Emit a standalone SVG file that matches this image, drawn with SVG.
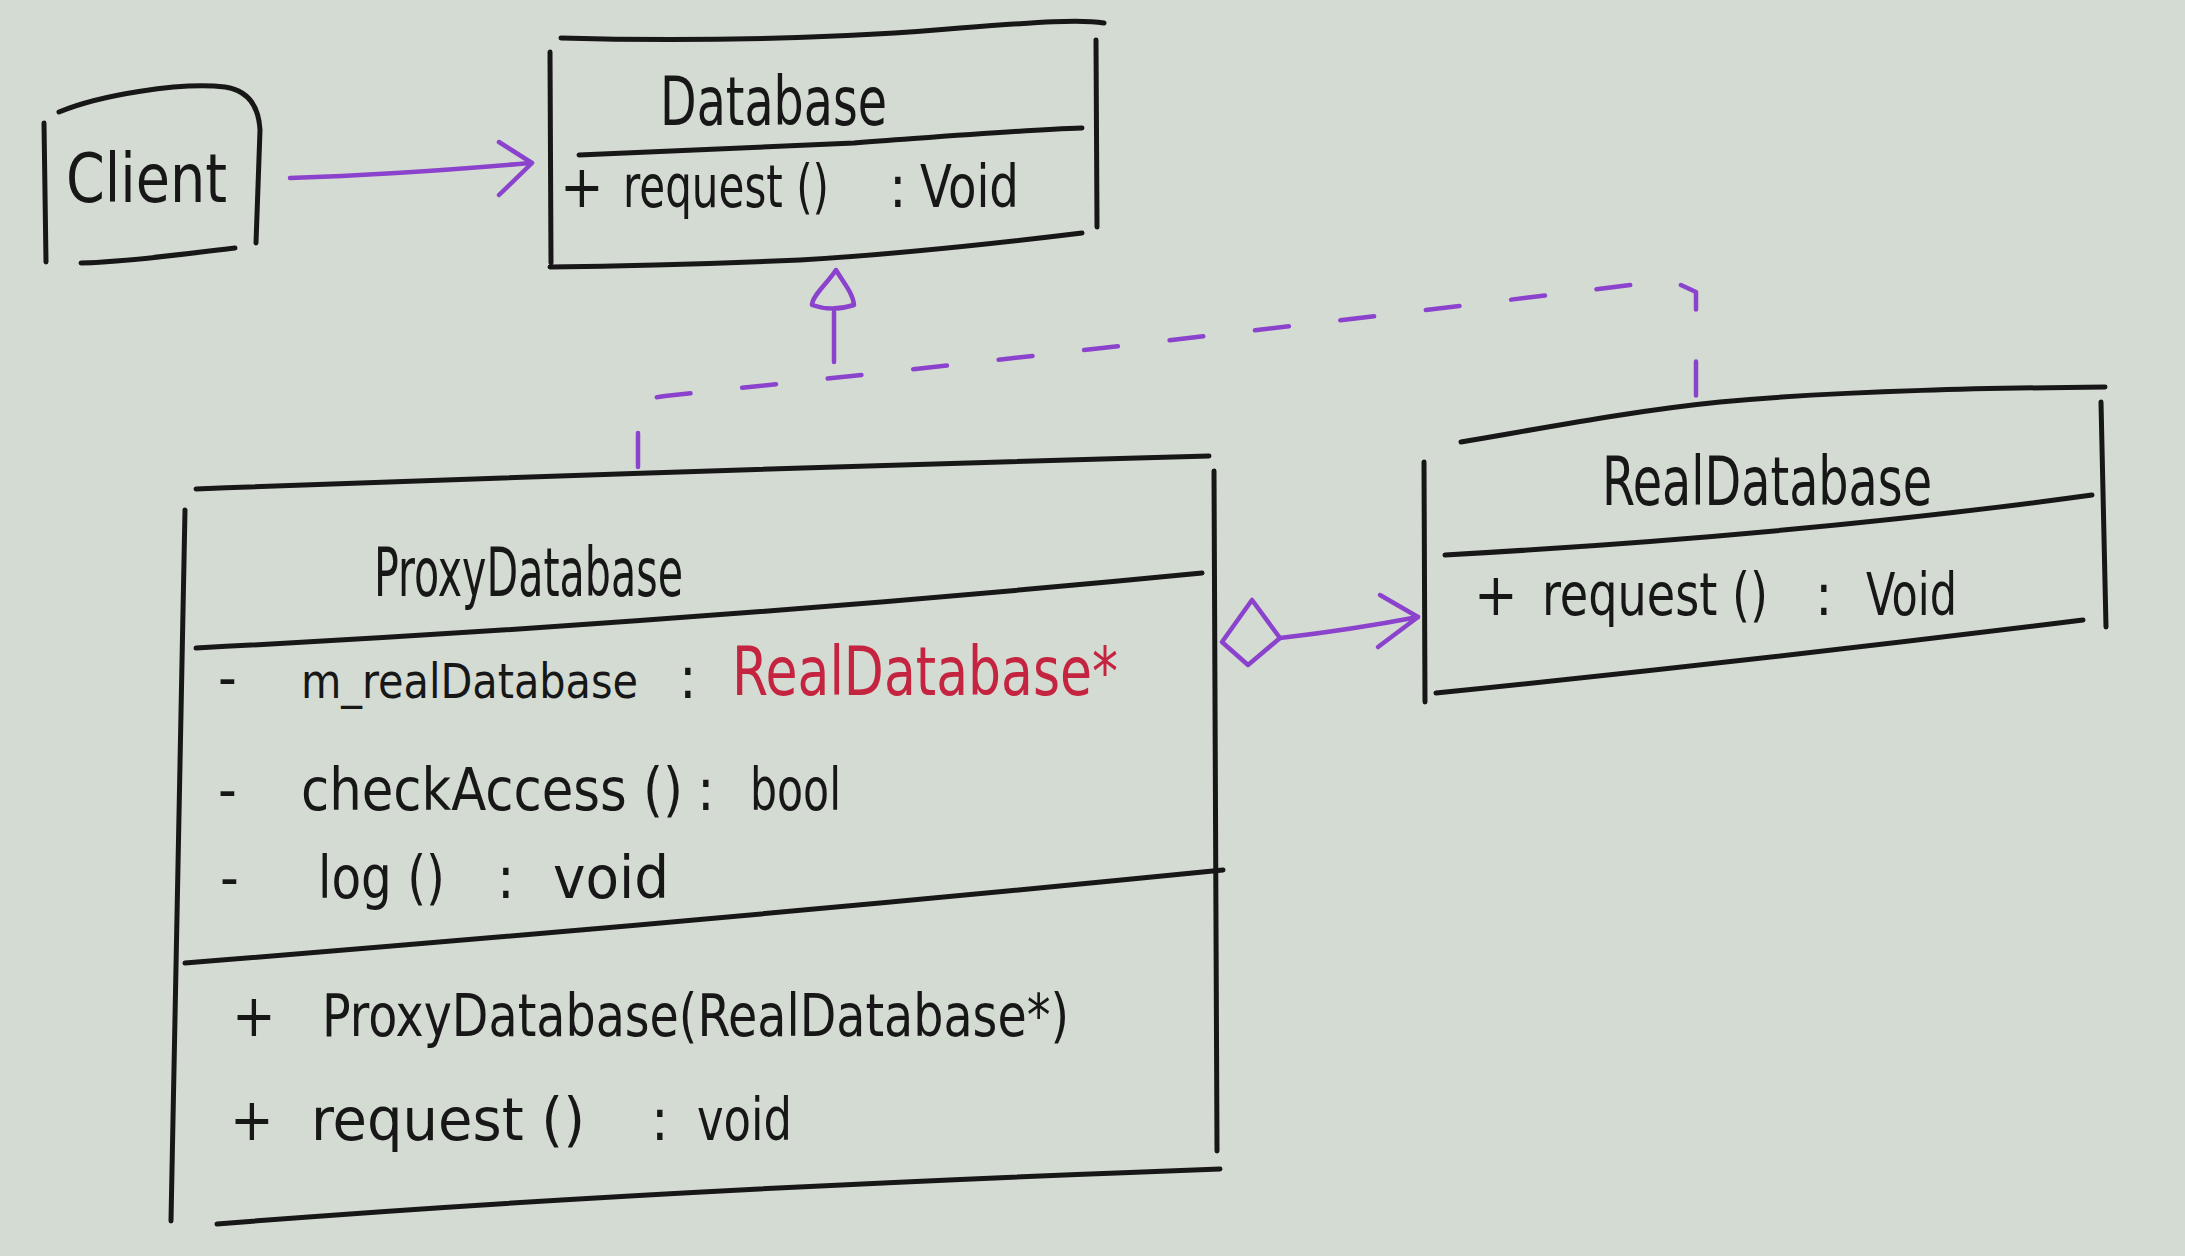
<svg xmlns="http://www.w3.org/2000/svg" width="2185" height="1256" viewBox="0 0 2185 1256">
<defs>
<style>
.ink{fill:none;stroke:#171717;stroke-width:5;stroke-linecap:round;stroke-linejoin:round}
.pur{fill:none;stroke:#8b42cc;stroke-width:4.5;stroke-linecap:round;stroke-linejoin:round}
.dash{stroke-dasharray:34 52}
text{font-family:"Liberation Sans Narrow","DejaVu Sans Condensed","Liberation Sans",sans-serif;fill:#171717}
.t{font-size:58px}
.h{font-size:68px}
.red{fill:#c4243f}
</style>
</defs>
<rect x="0" y="0" width="2185" height="1256" fill="#d4dbd2"/>

<g id="client">
<path class="ink" d="M44,123 L46,262"/>
<path class="ink" d="M59,112 C100,95 180,82 225,87 Q258,92 260,130 L256,243"/>
<path class="ink" d="M81,263 C130,262 200,252 235,248"/>
<text class="h" x="66" y="202" textLength="161" lengthAdjust="spacingAndGlyphs">Client</text>
</g>

<g id="database">
<path class="ink" d="M561,38 C700,42 850,38 960,28 C1040,22 1080,19 1104,23"/>
<path class="ink" d="M550,52 L551,263"/>
<path class="ink" d="M1096,40 L1097,227"/>
<path class="ink" d="M579,155 C700,150 800,146 854,143 C950,136 1020,130 1082,128"/>
<path class="ink" d="M550,267 C650,266 733,263 800,260 C900,254 1000,243 1082,233"/>
<text class="h" x="660" y="125" textLength="227" lengthAdjust="spacingAndGlyphs">Database</text>
<text class="t" y="207"><tspan x="560">+</tspan> <tspan x="623" textLength="206" lengthAdjust="spacingAndGlyphs">request ()</tspan> <tspan x="889">:</tspan> <tspan x="920" textLength="99" lengthAdjust="spacingAndGlyphs">Void</tspan></text>
</g>

<g id="proxy">
<path class="ink" d="M196,489 Q700,470 1209,456"/>
<path class="ink" d="M185,510 L171,1221"/>
<path class="ink" d="M1214,471 L1217,1151"/>
<path class="ink" d="M196,648 Q700,622 1202,573"/>
<path class="ink" d="M185,963 Q700,922 1223,870"/>
<path class="ink" d="M217,1224 Q640,1190 1220,1169"/>
<text class="h" x="374" y="596" textLength="309" lengthAdjust="spacingAndGlyphs">ProxyDatabase</text>
<text class="t" y="698"><tspan x="218">-</tspan> <tspan x="301" style="font-size:48px" textLength="337" lengthAdjust="spacingAndGlyphs">m_realDatabase</tspan> <tspan x="679">:</tspan> <tspan class="red" x="732" y="695" style="font-size:68px" textLength="386" lengthAdjust="spacingAndGlyphs">RealDatabase*</tspan></text>
<text class="t" y="810"><tspan x="218">-</tspan> <tspan x="301" textLength="382" lengthAdjust="spacingAndGlyphs">checkAccess ()</tspan> <tspan x="697">:</tspan> <tspan x="750" textLength="91" lengthAdjust="spacingAndGlyphs">bool</tspan></text>
<text class="t" y="898"><tspan x="220">-</tspan> <tspan x="318" textLength="127" lengthAdjust="spacingAndGlyphs">log ()</tspan> <tspan x="497">:</tspan> <tspan x="553" textLength="116" lengthAdjust="spacingAndGlyphs">void</tspan></text>
<text class="t" y="1036"><tspan x="232">+</tspan> <tspan x="322" textLength="747" lengthAdjust="spacingAndGlyphs">ProxyDatabase(RealDatabase*)</tspan></text>
<text class="t" y="1140"><tspan x="230">+</tspan> <tspan x="311" textLength="274" lengthAdjust="spacingAndGlyphs">request ()</tspan> <tspan x="651">:</tspan> <tspan x="697" textLength="95" lengthAdjust="spacingAndGlyphs">void</tspan></text>
</g>

<g id="realdatabase">
<path class="ink" d="M1461,442 C1560,425 1640,410 1720,402 C1850,390 2000,388 2105,387"/>
<path class="ink" d="M1424,462 L1425,702"/>
<path class="ink" d="M2101,402 L2106,627"/>
<path class="ink" d="M1445,555 Q1800,535 2092,495"/>
<path class="ink" d="M1436,693 Q1760,660 2083,620"/>
<text class="h" x="1602" y="505" textLength="330" lengthAdjust="spacingAndGlyphs">RealDatabase</text>
<text class="t" y="615"><tspan x="1474">+</tspan> <tspan x="1542" textLength="226" lengthAdjust="spacingAndGlyphs">request ()</tspan> <tspan x="1815">:</tspan> <tspan x="1866" textLength="91" lengthAdjust="spacingAndGlyphs">Void</tspan></text>
</g>

<g id="connectors">
<path class="pur" d="M290,178 C380,175 450,170 530,163"/>
<polyline class="pur" points="499,142 532,163 499,195"/>
<path class="pur dash" d="M638,467 L638,400 L665,396 Q1150,345 1670,280 L1696,292 L1696,410"/>
<path class="pur" style="stroke-dasharray:50 60" d="M834,312 L834,376"/>
<path class="pur" style="fill:#d4dbd2" d="M836,270 C826,285 812,296 812,305 Q832,312 854,305 C853,293 843,282 836,270 Z"/>
<path class="pur" d="M1252,600 L1222,642 L1248,665 L1280,638 Z"/>
<path class="pur" d="M1280,638 Q1350,630 1418,617"/>
<polyline class="pur" points="1380,595 1418,617 1378,647"/>
</g>
</svg>
